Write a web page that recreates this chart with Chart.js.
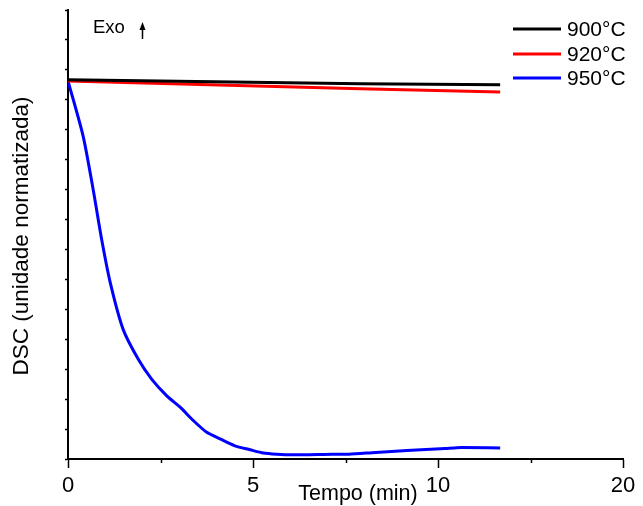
<!DOCTYPE html>
<html>
<head>
<meta charset="utf-8">
<script src="https://cdn.jsdelivr.net/npm/chart.js@4/dist/chart.umd.min.js"></script>
<style>
  html, body { margin: 0; padding: 0; background: #fff; }
  #wrap { width: 643px; height: 506px; position: relative; }
</style>
</head>
<body>
<div id="wrap"><canvas id="chart" width="643" height="506"></canvas></div>
<script>
const SERIES_LABELS = ["900°C", "920°C", "950°C"];
const SERIES_COLORS = ["#000000", "#ff0000", "#0000ff"];

const time900 = [0, 7.9, 11.68];
const dsc900 = [12.67, 12.54, 12.5];

const time920 = [0, 7.9, 11.68];
const dsc920 = [12.63, 12.37, 12.26];

const time950 = [0, 0.41, 0.68, 0.91, 1.14, 1.49, 1.9, 2.26, 2.67, 3.03, 3.39, 3.75, 4.11, 4.51, 4.92, 5.28, 5.64, 6.08, 7.16, 7.59, 8.32, 9.16, 10.19, 10.51, 11.68];
const dsc950 = [12.63, 10.78, 9.0, 7.33, 5.9, 4.33, 3.33, 2.67, 2.11, 1.73, 1.28, 0.89, 0.67, 0.44, 0.31, 0.2, 0.16, 0.14, 0.16, 0.16, 0.22, 0.28, 0.35, 0.38, 0.37];

// x axis ticks: the original labels the last major tick "20"
const xTickValues = [0, 2.5, 5, 7.5, 10, 12.5, 15];
const xTickLabels = ["0", "", "5", "", "10", "", "20"];

const X_TITLE = "Tempo (min)";
const Y_TITLE = "DSC (unidade normatizada)";
const FONT = "'Liberation Sans', Arial, sans-serif";

function toPoints(xs, ys) {
  return xs.map((x, i) => ({ x, y: ys[i] }));
}

const decorations = {
  id: "decorations",
  afterDraw(chart) {
    const ctx = chart.ctx;
    const xs = chart.scales.x;
    const area = chart.chartArea;
    ctx.save();
    ctx.fillStyle = "#000";
    ctx.strokeStyle = "#000";

    // minor x ticks
    ctx.lineWidth = 1.5;
    xTickValues.forEach((v, i) => {
      if (xTickLabels[i] !== "") return;
      const px = Math.round(xs.getPixelForValue(v)) + 0.5;
      ctx.beginPath();
      ctx.moveTo(px, area.bottom);
      ctx.lineTo(px, area.bottom + 4);
      ctx.stroke();
    });

    // axis titles
    ctx.font = "21.5px " + FONT;
    ctx.textAlign = "center";
    ctx.textBaseline = "middle";
    ctx.fillText(X_TITLE, 358, 494);
    ctx.save();
    ctx.translate(22, 236);
    ctx.rotate(-Math.PI / 2);
    ctx.font = "22.5px " + FONT;
    ctx.fillText(Y_TITLE, 0, 0);
    ctx.restore();

    // Exo arrow
    ctx.font = "18.5px " + FONT;
    ctx.textAlign = "left";
    ctx.textBaseline = "alphabetic";
    ctx.fillText("Exo", 93, 33);
    ctx.lineWidth = 1.5;
    ctx.beginPath();
    ctx.moveTo(142.5, 39);
    ctx.lineTo(142.5, 28);
    ctx.stroke();
    ctx.beginPath();
    ctx.moveTo(142.5, 22);
    ctx.lineTo(139.5, 30);
    ctx.lineTo(145.5, 30);
    ctx.closePath();
    ctx.fill();

    // legend
    ctx.font = "21px " + FONT;
    ctx.textBaseline = "middle";
    const rows = [29, 54, 78];
    chart.data.datasets.forEach((ds, i) => {
      ctx.strokeStyle = ds.borderColor;
      ctx.lineWidth = 3;
      ctx.beginPath();
      ctx.moveTo(513, rows[i]);
      ctx.lineTo(561, rows[i]);
      ctx.stroke();
      ctx.fillStyle = "#000";
      ctx.fillText(ds.label, 567, rows[i] + 1);
    });
    ctx.restore();
  },
};

new Chart(document.getElementById("chart"), {
  type: "line",
  data: {
    datasets: [
      { label: SERIES_LABELS[0], data: toPoints(time900, dsc900) },
      { label: SERIES_LABELS[1], data: toPoints(time920, dsc920) },
      { label: SERIES_LABELS[2], data: toPoints(time950, dsc950), tension: 0.25 },
    ].map((ds, i) => ({
      borderColor: SERIES_COLORS[i],
      backgroundColor: SERIES_COLORS[i],
      borderWidth: 3,
      pointRadius: 0,
      fill: false,
      tension: 0,
      ...ds,
    })),
  },
  options: {
    responsive: false,
    animation: false,
    layout: { padding: { top: 10, right: 20, left: 0, bottom: 0 } },
    plugins: { legend: { display: false }, tooltip: { enabled: false } },
    scales: {
      x: {
        type: "linear",
        min: 0,
        max: 15,
        afterBuildTicks: (scale) => {
          scale.ticks = xTickValues.filter((v, i) => xTickLabels[i] !== "").map((v) => ({ value: v }));
        },
        afterFit: (scale) => { scale.height = 47; },
        ticks: {
          callback: (v) => xTickLabels[xTickValues.indexOf(v)],
          color: "#000",
          font: { family: FONT, size: 22 },
          padding: 5,
          maxRotation: 0,
          autoSkip: false,
        },
        grid: { drawOnChartArea: false, tickLength: 9, tickColor: "#000", tickWidth: 1.5 },
        border: { color: "#000", width: 2 },
      },
      y: {
        type: "linear",
        min: 0,
        max: 15,
        afterFit: (scale) => { scale.width = 68; },
        ticks: { stepSize: 1, display: false },
        grid: { drawOnChartArea: false, tickLength: 3, tickColor: "#000", tickWidth: 1.5 },
        border: { color: "#000", width: 2 },
      },
    },
  },
  plugins: [decorations],
});
</script>
</body>
</html>
